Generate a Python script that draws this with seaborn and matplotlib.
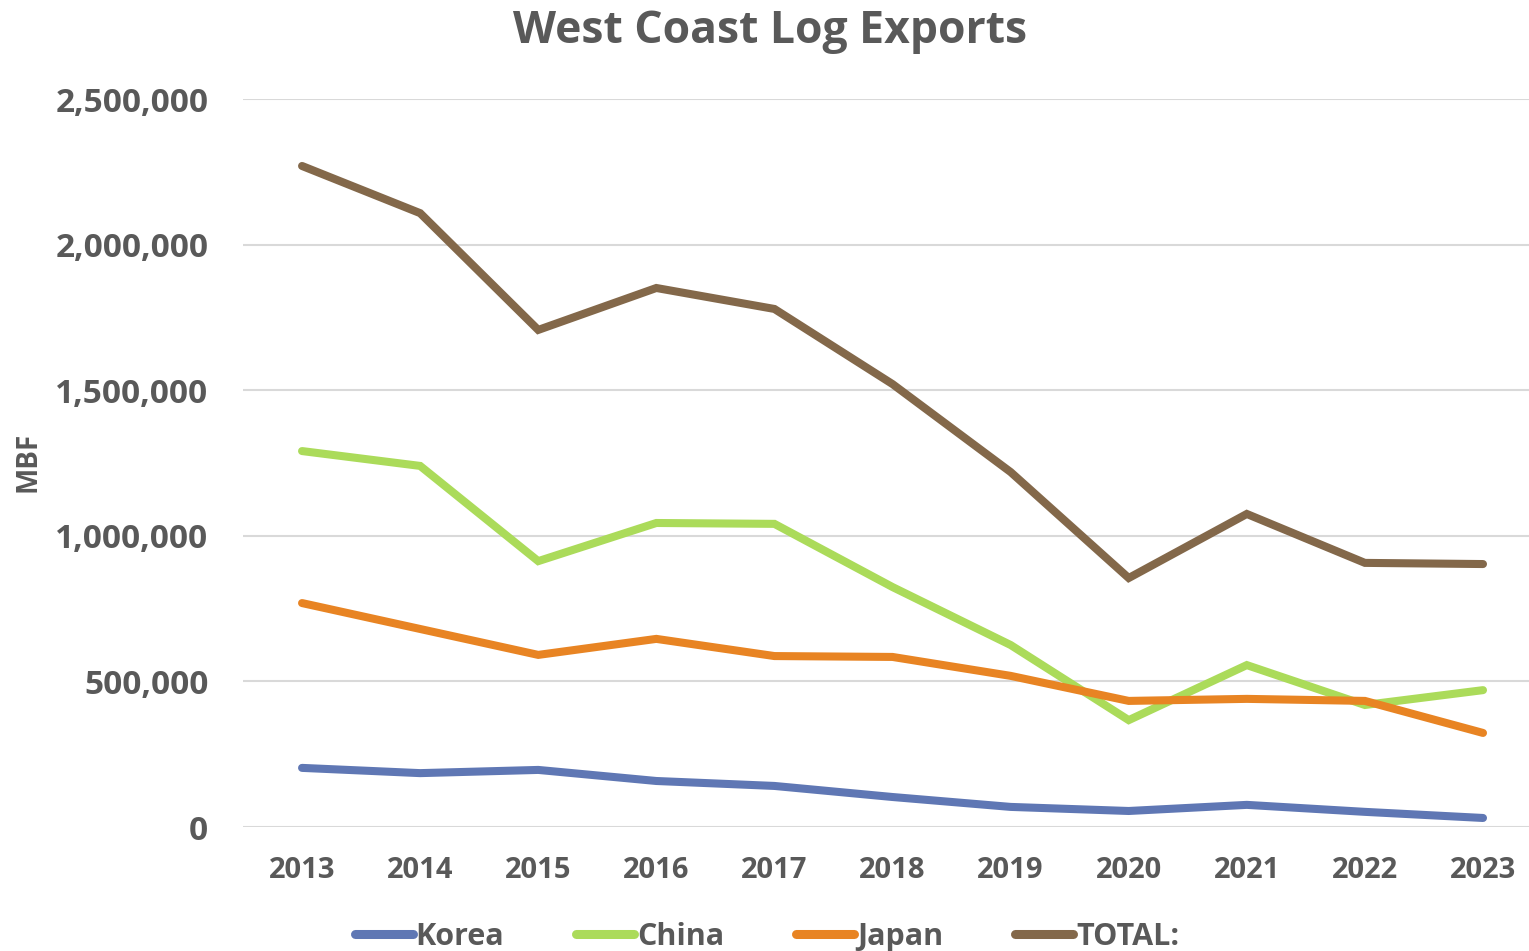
import matplotlib
matplotlib.use("Agg")
import matplotlib.pyplot as plt
import seaborn as sns
import pandas as pd
from matplotlib.ticker import FuncFormatter
from matplotlib.lines import Line2D

years = ["2013", "2014", "2015", "2016", "2017", "2018", "2019", "2020", "2021", "2022", "2023"]
korea = [203000, 185000, 196000, 158000, 141000, 103000, 69000, 55000, 76000, 52000, 31000]
china = [1291000, 1240000, 913000, 1044000, 1041000, 824000, 625000, 367000, 556000, 419000, 470000]
japan = [769000, 680000, 591000, 646000, 587000, 584000, 519000, 433000, 440000, 433000, 323000]
total = [2270000, 2108000, 1707000, 1851000, 1779000, 1521000, 1219000, 855000, 1075000, 907000, 903000]

series_names = ["Korea", "China", "Japan", "TOTAL:"]
colors = ["#5F77B4", "#ABDB5A", "#E88423", "#83684A"]

df = pd.DataFrame({"Year": years * 4,
                   "Value": korea + china + japan + total,
                   "Series": [s for s in series_names for _ in years]})
df["x"] = df["Year"].map({y: i for i, y in enumerate(years)})

sns.set_theme(style="white")
plt.rcParams["font.family"] = ["Open Sans", "DejaVu Sans"]
TXT = "#595959"

fig = plt.figure(figsize=(15.29, 9.51), dpi=100)
ax = fig.add_axes([243 / 1529, 1 - 827 / 951, 1 - 243 / 1529, (827 - 99) / 951])

sns.lineplot(data=df, x="x", y="Value", hue="Series", hue_order=series_names,
             palette=colors, linewidth=5.8, ax=ax, legend=False,
             solid_capstyle="round", solid_joinstyle="miter", clip_on=False)

ax.set_ylim(0, 2500000)
ax.set_xlim(-0.5, (1529 - 302) / 118.1)
ax.set_yticks([0, 500000, 1000000, 1500000, 2000000, 2500000])
ax.yaxis.set_major_formatter(FuncFormatter(lambda v, p: f"{int(v):,}"))
ax.set_xticks(range(len(years)))
ax.set_xticklabels(years)
ax.grid(axis="y", color="#D9D9D9", linewidth=1.5)
ax.grid(axis="x", visible=False)
for s in ax.spines.values():
    s.set_visible(False)
ax.tick_params(axis="y", length=0, pad=25, labelsize=24, labelcolor=TXT)
ax.tick_params(axis="x", length=0, pad=21, labelsize=21, labelcolor=TXT)
for lab in ax.get_xticklabels() + ax.get_yticklabels():
    lab.set_fontweight("bold")
ax.set_xlabel("")
ax.set_ylabel("")

fig.text(28 / 1529, 1 - 462 / 951, "MBF", rotation=90, ha="center", va="center",
         fontsize=20, fontweight="bold", color=TXT)
fig.text(770 / 1529, 1 - 32 / 951, "West Coast Log Exports", ha="center", va="center",
         fontsize=32, fontweight="bold", color=TXT)

handles = [Line2D([0], [0], color=c, linewidth=6.5, solid_capstyle="round") for c in colors]
leg = fig.legend(handles, series_names, loc="center", bbox_to_anchor=(767 / 1529, 1 - 937 / 951),
                 ncol=4, frameon=False, handlelength=1.9, handletextpad=0.1,
                 columnspacing=2.35, prop={"size": 22, "weight": "bold"}, labelcolor=TXT)

fig.savefig("out.png", dpi=100, facecolor="white")
